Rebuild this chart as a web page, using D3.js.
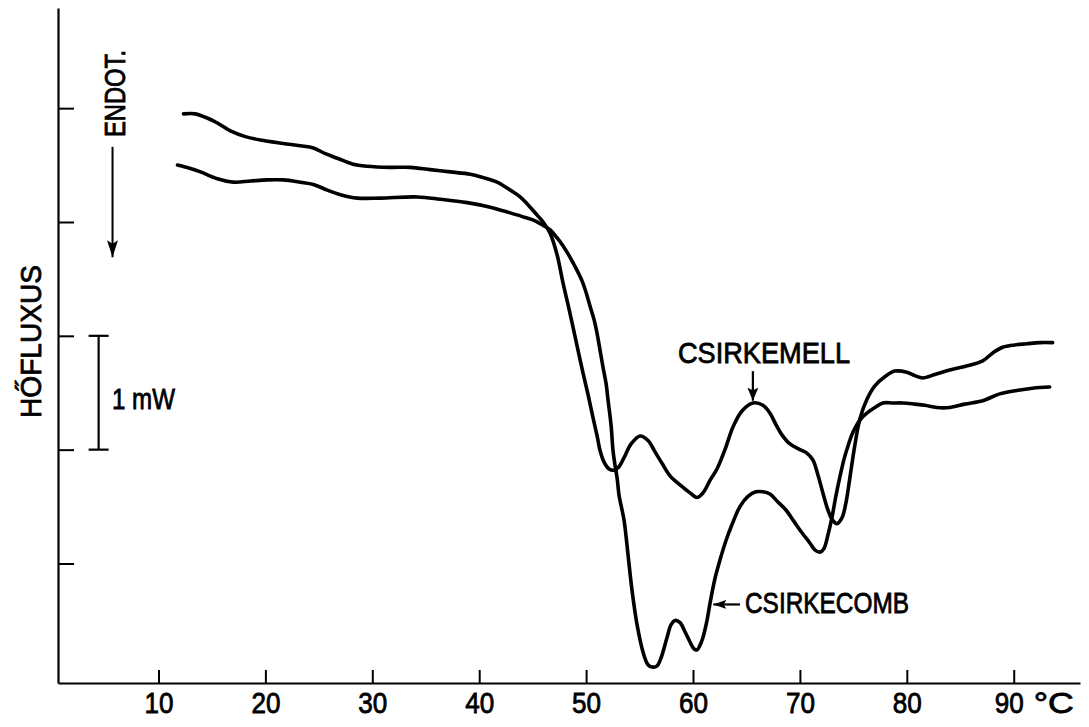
<!DOCTYPE html>
<html>
<head>
<meta charset="utf-8">
<script src="https://cdn.jsdelivr.net/npm/d3@7"></script>
<style>
  html, body { margin: 0; padding: 0; background: #fff; }
  svg { display: block; }
  text { font-family: "Liberation Sans", Arial, "DejaVu Sans", sans-serif; fill: #000; stroke: #000; stroke-width: 0.8px; }
</style>
</head>
<body>
<svg id="chart" width="1089" height="727"></svg>
<script>
// ---- data (temperature in °C, heat flux in mW, arbitrary offset) ----
const xTicks = [10, 20, 30, 40, 50, 60, 70, 80, 90];
const yTicks = [0, 1, 2, 3, 4];
const unitLabel = "°C";
const yTitle = "HŐFLUXUS";
const endoLabel = "ENDOT.";
const scaleLabel = "1 mW";
const seriesNames = ["CSIRKEMELL", "CSIRKECOMB"];

const mellT = [12.34, 13.46, 14.39, 15.51, 16.73, 18.13, 19.53, 21.68, 23.27, 24.49, 25.61, 26.73, 28.13, 29.53, 31.68, 33.55, 35.42, 37.29, 39.16, 40.37, 41.68, 42.90, 43.83, 44.77, 45.42, 45.98, 46.64, 47.29, 47.85, 48.32, 48.79, 49.25, 49.72, 50.19, 50.65, 51.03, 51.31, 51.68, 52.15, 52.62, 53.08, 53.55, 54.21, 55.05, 55.79, 56.45, 57.10, 57.85, 58.79, 59.72, 60.37, 60.93, 61.59, 62.24, 62.99, 63.74, 64.58, 65.61, 66.54, 67.20, 67.76, 68.32, 69.07, 70.00, 70.65, 71.21, 71.68, 72.15, 72.62, 72.99, 73.46, 73.93, 74.30, 74.67, 75.14, 75.61, 76.26, 77.01, 77.94, 78.88, 80.00, 80.75, 81.50, 82.62, 84.02, 85.42, 87.10, 88.04, 88.97, 90.09, 91.21, 92.43, 93.64];
const mellV = [3.95, 3.95, 3.92, 3.87, 3.80, 3.75, 3.72, 3.69, 3.67, 3.65, 3.60, 3.56, 3.51, 3.49, 3.48, 3.48, 3.46, 3.44, 3.42, 3.39, 3.35, 3.28, 3.22, 3.13, 3.06, 3.00, 2.90, 2.71, 2.46, 2.27, 2.07, 1.87, 1.67, 1.48, 1.28, 1.12, 0.99, 0.89, 0.83, 0.82, 0.85, 0.93, 1.05, 1.12, 1.08, 0.98, 0.88, 0.77, 0.69, 0.62, 0.58, 0.62, 0.73, 0.83, 1.00, 1.20, 1.34, 1.41, 1.39, 1.32, 1.22, 1.13, 1.05, 1.00, 0.97, 0.91, 0.78, 0.62, 0.47, 0.39, 0.35, 0.40, 0.53, 0.75, 1.04, 1.27, 1.44, 1.56, 1.64, 1.69, 1.68, 1.65, 1.63, 1.66, 1.70, 1.73, 1.78, 1.85, 1.90, 1.92, 1.93, 1.94, 1.94];

const combT = [11.78, 12.99, 13.93, 15.51, 17.01, 18.60, 20.19, 21.68, 23.27, 24.49, 25.79, 27.01, 28.60, 30.75, 34.21, 36.36, 38.88, 41.03, 42.90, 44.30, 45.23, 45.98, 46.64, 47.29, 47.85, 48.50, 49.07, 49.63, 50.00, 50.37, 50.75, 51.03, 51.31, 51.59, 51.87, 52.06, 52.34, 52.52, 52.71, 52.90, 53.08, 53.27, 53.55, 53.93, 54.30, 54.77, 55.33, 55.79, 56.17, 56.64, 57.01, 57.57, 57.94, 58.32, 58.79, 59.25, 59.72, 60.09, 60.37, 60.65, 60.93, 61.31, 61.59, 62.06, 62.52, 63.08, 63.64, 64.39, 65.14, 65.89, 66.54, 67.20, 67.94, 68.69, 69.44, 70.19, 70.93, 71.40, 71.87, 72.24, 72.62, 72.99, 73.36, 73.74, 74.11, 74.49, 74.95, 75.61, 76.26, 77.01, 77.76, 78.69, 79.63, 80.75, 81.68, 82.80, 84.02, 85.42, 87.10, 88.69, 90.28, 91.78, 93.36];
const combV = [3.50, 3.47, 3.44, 3.38, 3.35, 3.36, 3.37, 3.37, 3.35, 3.33, 3.28, 3.24, 3.21, 3.21, 3.22, 3.20, 3.17, 3.13, 3.08, 3.04, 3.01, 2.97, 2.93, 2.86, 2.79, 2.69, 2.59, 2.48, 2.38, 2.26, 2.14, 2.02, 1.87, 1.72, 1.58, 1.43, 1.21, 0.99, 0.86, 0.75, 0.60, 0.51, 0.38, 0.07, -0.24, -0.54, -0.78, -0.89, -0.91, -0.90, -0.83, -0.65, -0.54, -0.50, -0.52, -0.60, -0.69, -0.75, -0.76, -0.72, -0.65, -0.50, -0.35, -0.13, 0.03, 0.20, 0.34, 0.50, 0.59, 0.63, 0.63, 0.61, 0.54, 0.47, 0.37, 0.27, 0.18, 0.12, 0.10, 0.13, 0.25, 0.40, 0.59, 0.76, 0.91, 1.03, 1.15, 1.26, 1.32, 1.37, 1.41, 1.41, 1.41, 1.40, 1.39, 1.37, 1.37, 1.40, 1.43, 1.49, 1.52, 1.54, 1.55];

// annotation anchors (data coords)
const mellArrowT = 65.6, mellArrowV = [1.69, 1.43];
const combArrowT = [64.4, 61.9], combArrowV = -0.36;
const scaleBarT = 4.4, scaleBarV = [1, 2];
const endoArrowT = 5.7, endoArrowV = [3.66, 2.69];

// ---- layout ----
const svg = d3.select("#chart");
const x = d3.scaleLinear().domain([0.6, 96.2]).range([58, 1080]);
const y = d3.scaleLinear().domain([-1.05, 4.88]).range([683, 8]);

// defs: arrowheads of several sizes
const defs = svg.append("defs");
function marker(id, len, wid) {
  defs.append("marker").attr("id", id).attr("viewBox", "0 0 10 10")
    .attr("preserveAspectRatio", "none")
    .attr("refX", 10).attr("refY", 5).attr("markerWidth", len).attr("markerHeight", wid)
    .attr("markerUnits", "userSpaceOnUse").attr("orient", "auto")
    .append("path").attr("d", "M0,0 L10,5 L0,10 L2,5 Z").attr("fill", "#000");
}
marker("ahEndo", 17, 11);
marker("ahMell", 13, 11);
marker("ahComb", 13, 9);

// x axis
const xAxis = d3.axisBottom(x).tickValues(xTicks).tickSizeInner(-13).tickSizeOuter(0).tickPadding(9)
  .tickFormat(d => String(d));
const gx = svg.append("g").attr("transform", `translate(0,${y.range()[0]})`).call(xAxis);
gx.select(".domain").attr("stroke-width", 2.2);
gx.selectAll(".tick line").attr("stroke-width", 2);
gx.selectAll(".tick text").attr("font-size", 29).attr("font-family", null)
  .attr("textLength", 29).attr("lengthAdjust", "spacingAndGlyphs")
  .attr("dx", d => d === 90 ? -5 : 0);
svg.append("text").attr("x", x(90) + 20).attr("y", y.range()[0] + 9).attr("dy", "0.71em")
  .attr("font-size", 29).attr("textLength", 40).attr("lengthAdjust", "spacingAndGlyphs").text(unitLabel);

// y axis
const yAxis = d3.axisLeft(y).tickValues(yTicks).tickSizeInner(-16).tickSizeOuter(0).tickFormat("");
const gy = svg.append("g").attr("transform", `translate(${x.range()[0]},0)`).call(yAxis);
gy.select(".domain").attr("stroke-width", 2.2);
gy.selectAll(".tick line").attr("stroke-width", 2);

// y title
svg.append("text").attr("transform", "translate(41,418) rotate(-90)")
  .attr("font-size", 30)
  .attr("textLength", 153).attr("lengthAdjust", "spacingAndGlyphs").text(yTitle);

// ENDOT. label and arrow
svg.append("text").attr("transform", "translate(125,137) rotate(-90)")
  .attr("font-size", 29)
  .attr("textLength", 87).attr("lengthAdjust", "spacingAndGlyphs").text(endoLabel);
svg.append("line").attr("x1", x(endoArrowT)).attr("x2", x(endoArrowT))
  .attr("y1", y(endoArrowV[0])).attr("y2", y(endoArrowV[1]))
  .attr("stroke", "#000").attr("stroke-width", 2).attr("marker-end", "url(#ahEndo)");

// 1 mW scale bar
const sbx = x(scaleBarT);
svg.append("line").attr("x1", sbx).attr("x2", sbx).attr("y1", y(scaleBarV[0])).attr("y2", y(scaleBarV[1]))
  .attr("stroke", "#000").attr("stroke-width", 2.2);
scaleBarV.forEach(v => svg.append("line").attr("x1", sbx - 10).attr("x2", sbx + 10)
  .attr("y1", y(v)).attr("y2", y(v)).attr("stroke", "#000").attr("stroke-width", 2.2));
svg.append("text").attr("x", 112).attr("y", 409).attr("font-size", 29)
  .attr("textLength", 63).attr("lengthAdjust", "spacingAndGlyphs").text(scaleLabel);

// curves
const line = d3.line().x(d => x(d[0])).y(d => y(d[1])).curve(d3.curveCatmullRom.alpha(0.5));
const mell = mellT.map((t, i) => [t, mellV[i]]);
const comb = combT.map((t, i) => [t, combV[i]]);
[mell, comb].forEach(data => {
  svg.append("path").datum(data).attr("d", line).attr("fill", "none")
    .attr("stroke", "#000").attr("stroke-width", 3.6)
    .attr("stroke-linejoin", "round").attr("stroke-linecap", "round");
});

// series labels
svg.append("text").attr("x", 678).attr("y", 363).attr("font-size", 29)
  .attr("textLength", 172).attr("lengthAdjust", "spacingAndGlyphs").text(seriesNames[0]);
svg.append("line").attr("x1", x(mellArrowT)).attr("x2", x(mellArrowT))
  .attr("y1", y(mellArrowV[0])).attr("y2", y(mellArrowV[1]))
  .attr("stroke", "#000").attr("stroke-width", 2.2).attr("marker-end", "url(#ahMell)");

svg.append("text").attr("x", 745).attr("y", 613).attr("font-size", 29)
  .attr("textLength", 164).attr("lengthAdjust", "spacingAndGlyphs").text(seriesNames[1]);
svg.append("line").attr("x1", x(combArrowT[0])).attr("x2", x(combArrowT[1]))
  .attr("y1", y(combArrowV)).attr("y2", y(combArrowV))
  .attr("stroke", "#000").attr("stroke-width", 2.2).attr("marker-end", "url(#ahComb)");
</script>
</body>
</html>
